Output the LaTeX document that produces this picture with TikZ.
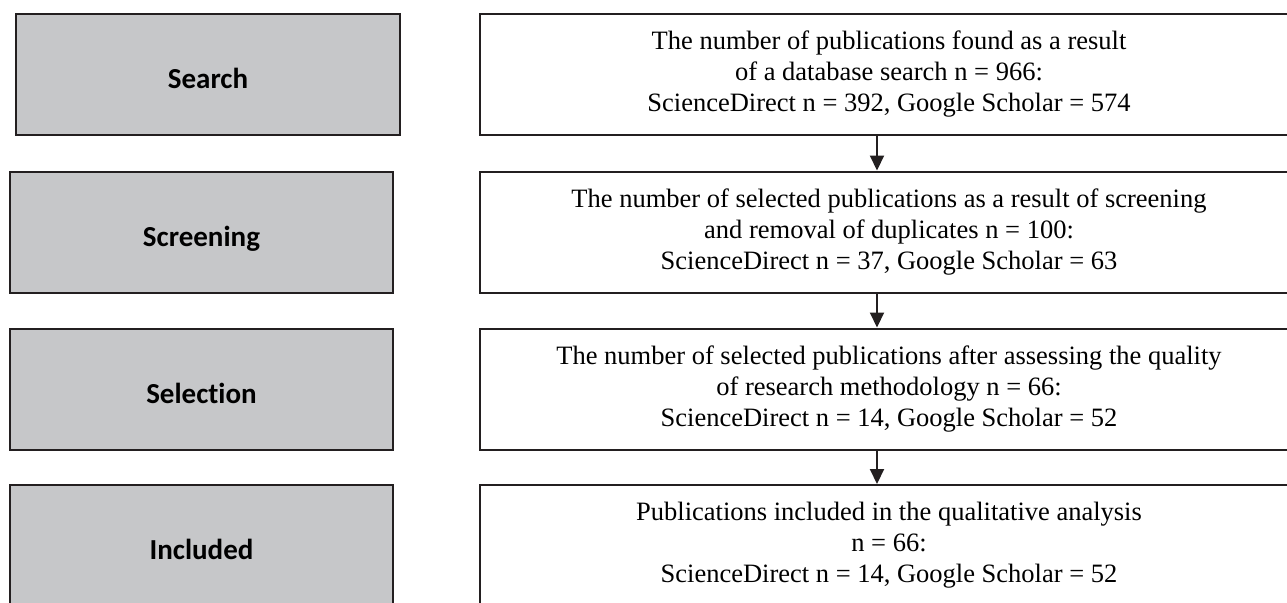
\documentclass[tikz,border=0pt]{standalone}
\usepackage{fontspec}
\setmainfont{Liberation Serif}
\newfontfamily\stagefont[Ligatures=NoCommon]{Carlito}
\usepackage{xcolor}
\usetikzlibrary{arrows.meta}
\usetikzlibrary{positioning}
\definecolor{stagegray}{HTML}{C6C7C9}
\definecolor{inkdark}{HTML}{231F20}
\tikzset{stage/.style={rectangle,draw=inkdark,fill=stagegray,line width=1pt,inner sep=0pt,
    minimum height=60.5pt,text height=14.3pt,text depth=0pt,
    font=\stagefont\fontsize{14.5}{16}\selectfont\bfseries},
  nd/.style={rectangle,draw=inkdark,line width=1pt,align=center,inner sep=0pt,
    minimum width=409pt,minimum height=60.5pt,font=\fontsize{13.25}{15.5}\selectfont},
  arr/.style={draw=inkdark,line width=1pt,-{Triangle[length=7.5pt,width=7pt]}}}

\begin{document}
\begin{tikzpicture}[x=0.5pt,y=-0.5pt]
  \useasboundingbox (0,0) rectangle (1287,602);
  \clip (0,0) rectangle (1287,602);

  % stage boxes on the left
  \foreach \name/\x/\w/\y/\lbl in {s1/208/192/74.5/Search, s2/201.5/191.5/232/Screening,
      s3/201.5/191.5/389/Selection, s4/201.5/191.5/545.5/Included} {
    \node[stage, minimum width=\w pt] (\name) at (\x,\y) {\lbl};
  }

  % counts on the right
  \node[nd] (r1) at (889,74.5) {The number of publications found as a result\\
    of a database search n = 966:\\ScienceDirect n = 392, Google Scholar = 574};
  \node[nd] (r2) at (889,232) {The number of selected publications as a result of screening\\
    and removal of duplicates n = 100:\\ScienceDirect n = 37, Google Scholar = 63};
  \node[nd] (r3) at (889,389) {The number of selected publications after assessing the quality\\
    of research methodology n = 66:\\ScienceDirect n = 14, Google Scholar = 52};
  \node[nd] (r4) at (889,545.5) {Publications included in the qualitative analysis\\
    n = 66:\\ScienceDirect n = 14, Google Scholar = 52};

  \foreach \a/\b in {r1/r2, r2/r3, r3/r4}
    \draw[arr] ([xshift=-6pt]\a.south) -- ([xshift=-6pt]\b.north);
\end{tikzpicture}
\end{document}
